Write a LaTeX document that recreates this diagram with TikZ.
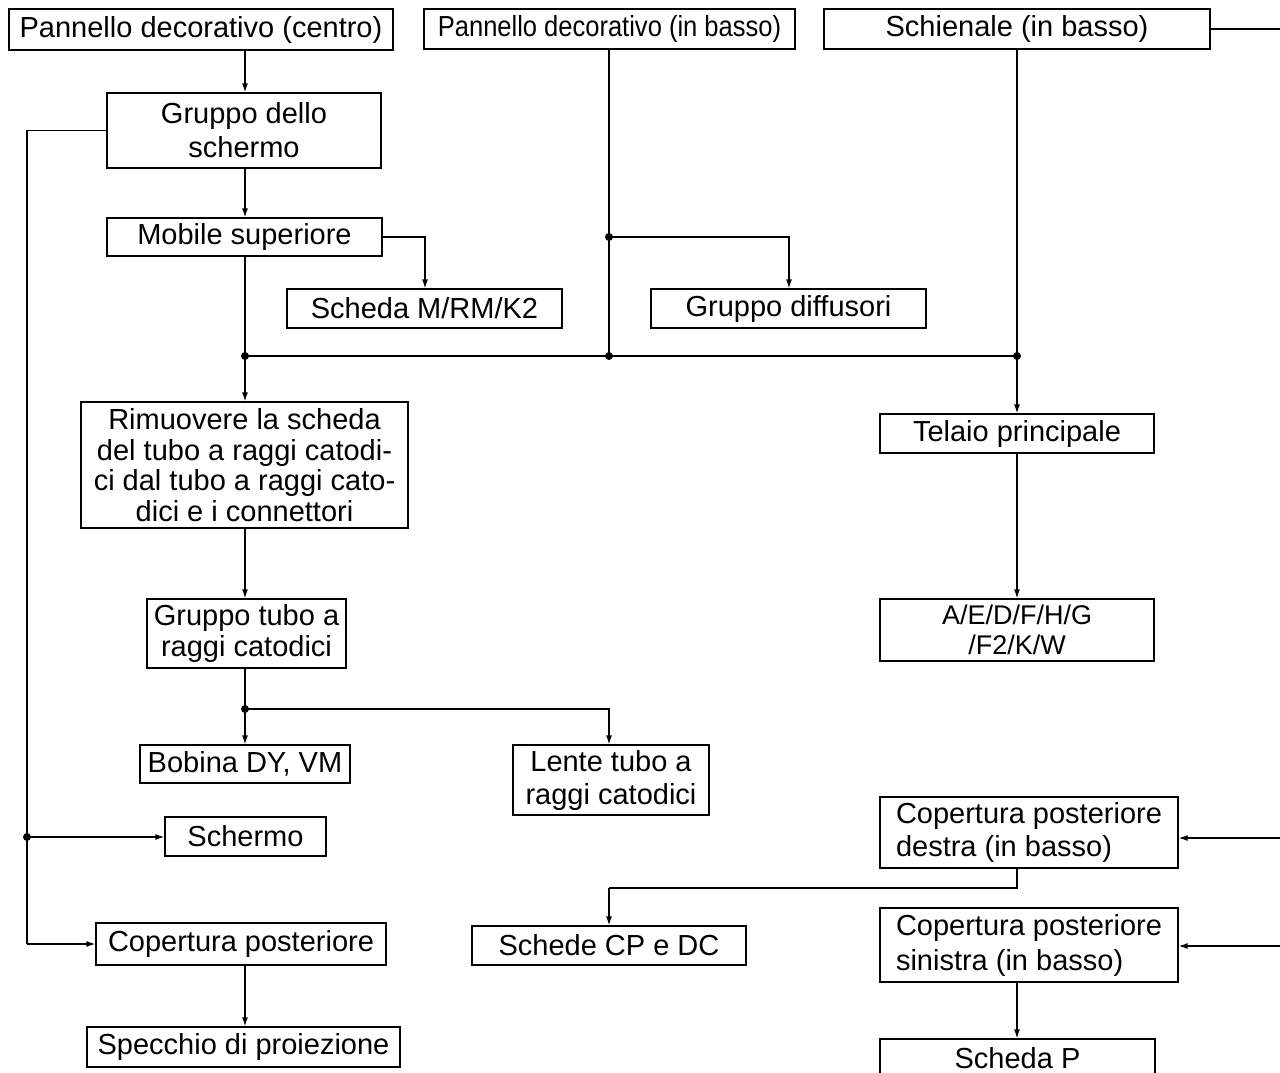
\documentclass[tikz,border=0pt]{standalone}
\usepackage{fontspec}
\usepackage{graphicx}
\setmainfont{Liberation Sans}
\usetikzlibrary{arrows.meta}
\newcommand{\fsA}{\fontsize{29}{31}\selectfont}
\begin{document}
\begin{tikzpicture}[x=1pt,y=-1pt,
  box/.style={draw, line width=1.3pt, inner sep=0pt, align=center, font=\fsA},
  ln/.style={line width=1.3pt},
  arr/.style={line width=1.3pt, -{Latex[length=9pt,width=6pt]}},
  jdot/.style={circle, fill, inner sep=0pt, minimum size=8pt}]
\useasboundingbox (0,0) rectangle (1280,1072);
\clip (0,0) rectangle (1280,1072);

% boxes
\node[box, minimum width=384pt, minimum height=41pt] (pdc) at (201,29.5) {Pannello decorativo (centro)};
\node[box, minimum width=371pt, minimum height=40pt] (pdb) at (609.5,29) {\scalebox{0.88}[1]{Pannello decorativo (in basso)}};
\node[box, minimum width=386pt, minimum height=40pt] (sch) at (1017,29) {Schienale (in basso)};
\node[box, minimum width=274pt, minimum height=75pt, font=\fontsize{29}{34}\selectfont] (gds) at (244,130.5) {Gruppo dello\\schermo};
\node[box, minimum width=275pt, minimum height=38pt] (mob) at (244.5,237) {Mobile superiore};
\node[box, minimum width=275pt, minimum height=39pt] (smk) at (424.5,308.5) {Scheda M/RM/K2};
\node[box, minimum width=275pt, minimum height=39pt] (gdf) at (788.5,308.5) {Gruppo diffusori};
\node[box, minimum width=327pt, minimum height=126pt, font=\fontsize{29}{30.5}\selectfont] (rim) at (244.5,465) {Rimuovere la scheda\\del tubo a raggi catodi-\\ci dal tubo a raggi cato-\\dici e i connettori};
\node[box, minimum width=274pt, minimum height=39pt] (tel) at (1017,433.5) {Telaio principale};
\node[box, minimum width=274pt, minimum height=62pt, font=\fontsize{27}{30}\selectfont] (aed) at (1017,630) {A/E/D/F/H/G\\/F2/K/W};
\node[box, minimum width=199pt, minimum height=69pt] (gtr) at (246.5,633.5) {Gruppo tubo a\\raggi catodici};
\node[box, minimum width=210pt, minimum height=38pt] (bob) at (245,764) {Bobina DY, VM};
\node[box, minimum width=196pt, minimum height=70pt, font=\fontsize{29}{33}\selectfont] (len) at (611,780) {Lente tubo a\\raggi catodici};
\node[box, minimum width=161pt, minimum height=39pt] (scm) at (245.5,836.5) {Schermo};
\node[box, minimum width=298pt, minimum height=71pt, align=left, font=\fontsize{29}{33}\selectfont] (cpd) at (1029,832.5) {Copertura posteriore\\destra (in basso)};
\node[box, minimum width=298pt, minimum height=74pt, align=left, font=\fontsize{29}{35}\selectfont] (cps) at (1029,945) {Copertura posteriore\\sinistra (in basso)};
\node[box, minimum width=290pt, minimum height=42pt] (cpo) at (241,944) {Copertura posteriore};
\node[box, minimum width=274pt, minimum height=39pt] (scd) at (609,945.5) {Schede CP e DC};
\node[box, minimum width=313pt, minimum height=40pt] (spe) at (243.5,1047) {Specchio di proiezione};
\node[box, minimum width=275pt, minimum height=39pt] (shp) at (1017.5,1058.5) {Scheda P};

% helper coordinates
\coordinate (cL) at (245,0);
\coordinate (cM) at (609,0);
\coordinate (cR) at (1017,0);
\coordinate (xS) at (425,0);
\coordinate (xG) at (789,0);
\coordinate (xE) at (27,0);
\coordinate (xOut) at (1290,0);
\coordinate (j1) at (245,356);
\coordinate (j2) at (609,356);
\coordinate (j3) at (1017,356);
\coordinate (j4) at (609,237);
\coordinate (j5) at (245,709);
\coordinate (j6) at (27,837);
\coordinate (k1) at (1017,888);
\coordinate (k2) at (609,888);
\coordinate (e1) at (1290,838);
\coordinate (e2) at (1290,946);

% connectors
\draw[arr] (pdc.south -| cL) -- (gds.north -| cL);
\draw[arr] (gds.south -| cL) -- (mob.north -| cL);
\draw[arr] (mob.east) -| (smk.north -| xS);
\draw[ln] (mob.south -| cL) -- (j1);
\draw[arr] (j1) -- (rim.north -| cL);
\draw[ln] (j1) -- (j3);
\draw[ln] (pdb.south -| cM) -- (j2);
\draw[arr] (j4) -| (gdf.north -| xG);
\draw[arr] (sch.south -| cR) -- (tel.north -| cR);
\draw[ln] (sch.east) -- (sch.east -| xOut);
\draw[arr] (tel.south -| cR) -- (aed.north -| cR);
\draw[arr] (rim.south -| cL) -- (gtr.north -| cL);
\draw[arr] (gtr.south -| cL) -- (bob.north -| cL);
\draw[arr] (j5) -| (len.north -| cM);
\draw[ln] (gds.west) -| (cpo.west -| xE);
\draw[arr] (cpo.west -| xE) -- (cpo.west);
\draw[arr] (j6) -- (scm.west |- j6);
\draw[arr] (cpo.south -| cL) -- (spe.north -| cL);
\draw[ln] (cpd.south -| cR) -- (k1) -- (k2);
\draw[arr] (k2) -- (scd.north -| cM);
\draw[arr] (e1) -- (cpd.east |- e1);
\draw[arr] (e2) -- (cps.east |- e2);
\draw[arr] (cps.south -| cR) -- (shp.north -| cR);

% junction dots
\foreach \p in {j1,j2,j3,j4,j5,j6}
  \node[jdot] at (\p) {};
\end{tikzpicture}
\end{document}
